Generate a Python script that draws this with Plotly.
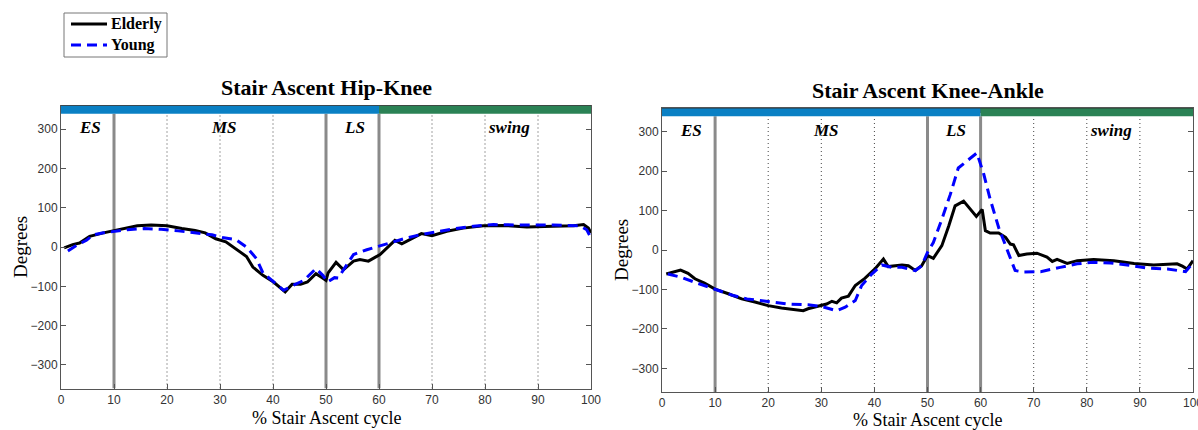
import plotly.graph_objects as go

# ---- Stair Ascent Hip-Knee (continuous relative phase, degrees) ----
hk_elderly_x = [0.6, 2.2, 3.5, 5.4, 8, 10, 11.9, 14.4, 17, 20, 22.8, 25.3, 27.2, 29.2, 31.1, 33, 35,
                36.2, 38.1, 40.1, 41.3, 42.3, 43.6, 45.2, 46.5, 48.1, 49, 50, 50.4, 51.9, 53.3, 55.2,
                56.4, 58, 60.2, 61.4, 63, 64.3, 65.8, 68, 70, 72.8, 75.9, 79.7, 83.5, 87.9, 92.9, 96.7,
                98.6, 99.5, 100]
hk_elderly_y = [-2, 6, 10, 27, 36, 42, 47, 54, 56, 54, 47, 42, 36, 21, 13, -4, -24,
                -51, -72, -89, -103, -114, -95, -95, -89, -68, -76, -85, -66, -39, -58, -36,
                -32, -36, -19, -3, 17, 8, 19, 34, 29, 40, 48, 54, 55, 51, 53, 54,
                57, 48, 36]

hk_young_x = [1.3, 2.9, 4.8, 6.1, 8, 10, 12.5, 15.7, 18.9, 22.1, 25.3, 27.2, 28.5, 30.4, 33, 35,
              36.9, 38.1, 40.1, 42, 43.9, 45.8, 48.1, 49.4, 50.3, 51.6, 52.3, 53.3, 55.2, 57.7,
              60.2, 62.7, 65.2, 67.7, 70.9, 74, 77.8, 81.6, 86.6, 92.9, 97.9, 99.2, 100]
hk_young_y = [-10, 4, 17, 31, 36, 40, 44, 47, 45, 41, 36, 32, 31, 24, 19, 0,
              -30, -66, -89, -110, -97, -85, -55, -72, -89, -78, -79, -58, -19, -7,
              3, 14, 23, 31, 39, 46, 53, 57, 56, 56, 54, 44, 23]

# ---- Stair Ascent Knee-Ankle ----
ka_elderly_x = [0.8, 2.1, 3.5, 4.9, 6.2, 8, 10, 12.5, 15, 17.5, 20, 22.5, 25, 26.6, 27.5, 29.9,
                31, 32, 32.9, 33.8, 35.1, 36.4, 38.2, 40.1, 41.7, 42.6, 45.2, 46.4, 47.7, 48.9,
                50, 51.1, 52.7, 54, 55.2, 56.8, 58, 59.2, 60.3, 60.9, 61.8, 63.4, 64.7, 65.6,
                66.2, 67.2, 68.7, 70.6, 72.5, 73.5, 74.4, 76.3, 78.2, 81.3, 85.1, 88.9, 92.6,
                97, 98, 98.9, 100]
ka_elderly_y = [-61, -57, -51, -59, -73, -84, -99, -111, -124, -132, -141, -147, -151, -154, -149, -141,
                -137, -130, -134, -122, -117, -90, -72, -48, -23, -42, -38, -40, -52, -40,
                -14, -21, 11, 61, 112, 124, 103, 85, 103, 49, 43, 43, 32, 15,
                13, -14, -10, -8, -18, -29, -24, -34, -27, -24, -27, -34, -38,
                -35, -41, -48, -27]

ka_young_x = [1.1, 3.6, 6.2, 10, 13.1, 16, 20, 23.8, 27.5, 30, 32.9, 34.5, 36.4, 37.6, 39.5,
              41.4, 43.3, 45.2, 47.7, 48.9, 50, 51.1, 52.7, 54.3, 55.8, 57.7, 59.3, 60.6, 61.8,
              63.4, 65, 66.5, 68.1, 71.3, 75, 78.2, 81.3, 84.5, 87.6, 91.4, 95.2, 98.6, 99.6, 100]
ka_young_y = [-61, -69, -82, -99, -114, -124, -131, -137, -139, -143, -154, -145, -128, -90, -61,
              -38, -44, -44, -52, -40, -6, 19, 78, 141, 208, 229, 246, 192, 129,
              57, 3, -52, -56, -55, -44, -35, -31, -33, -38, -46, -48, -55, -39, -27]

# Gait phases
phase_labels = ["ES", "MS", "LS", "swing"]
phase_label_x = [5.5, 30.8, 55.3, 84.5]
phase_bounds = [10, 50, 60]
dotted_x = [20, 30, 40, 70, 80, 90]
stance_end = 60

series_names = ["Elderly", "Young"]
titles = ["Stair Ascent Hip-Knee", "Stair Ascent Knee-Ankle"]
x_title = "% Stair Ascent cycle"
y_title = "Degrees"
y_ticks = [-300, -200, -100, 0, 100, 200, 300]
x_ticks = [0, 10, 20, 30, 40, 50, 60, 70, 80, 90, 100]

W, H = 1198, 430
SERIF = "Liberation Serif"
SANS = "Liberation Sans"
BLUE_BAR = "#0a80c4"
GREEN_BAR = "#2b8255"
ELDERLY_LINE = dict(color="black", width=3)
YOUNG_LINE = dict(color="#0000ff", width=3, dash="10px,6px")
Y_MIN, Y_MAX, BAR_LOW = -360, 360, 339

# pixel boxes of the two panels: (left, right, top, bottom)
panels = [(61, 591, 105.5, 388.5), (662, 1193, 108, 392)]
title_y = [87, 91]
xlabel_y = [417.5, 420]
xtick_standoff = [0, 0]


def px(v):
    return v / W


def py(v):
    return 1 - v / H


fig = go.Figure()

datasets = [(hk_elderly_x, hk_elderly_y, hk_young_x, hk_young_y),
            (ka_elderly_x, ka_elderly_y, ka_young_x, ka_young_y)]

shapes = []
annotations = []
for i, ((ex, ey, yx, yy), (l, r, t, b)) in enumerate(zip(datasets, panels)):
    sfx = "" if i == 0 else str(i + 1)
    xa, ya = "x" + sfx, "y" + sfx
    fig.add_trace(go.Scatter(x=ex, y=ey, mode="lines", name=series_names[0],
                             line=ELDERLY_LINE, xaxis=xa, yaxis=ya, showlegend=False))
    fig.add_trace(go.Scatter(x=yx, y=yy, mode="lines", name=series_names[1],
                             line=YOUNG_LINE, xaxis=xa, yaxis=ya, showlegend=False))

    axis_common = dict(showline=True, linecolor="#555", linewidth=1, mirror="ticks",
                       ticks="inside", ticklen=5, tickcolor="#555", showgrid=False,
                       zeroline=False, tickfont=dict(family=SANS, size=12, color="#333"),
                       automargin=False, ticklabeloverflow="allow")
    fig.layout["xaxis" + sfx] = dict(axis_common, domain=[px(l), px(r)], range=[0, 100],
                                     tickvals=x_ticks, anchor=ya,
                                     ticklabelstandoff=xtick_standoff[i])
    fig.layout["yaxis" + sfx] = dict(axis_common, domain=[py(b), py(t)],
                                     range=[Y_MIN, Y_MAX], tickvals=y_ticks, anchor=xa)

    # phase bars along the top
    shapes.append(dict(type="rect", xref=xa, yref=ya, x0=0, x1=stance_end, y0=BAR_LOW, y1=Y_MAX,
                       fillcolor=BLUE_BAR, line=dict(width=0), layer="above"))
    shapes.append(dict(type="rect", xref=xa, yref=ya, x0=stance_end, x1=100, y0=BAR_LOW, y1=Y_MAX,
                       fillcolor=GREEN_BAR, line=dict(width=0), layer="above"))
    shapes.append(dict(type="line", xref=xa, yref=ya, x0=0, x1=100, y0=Y_MAX, y1=Y_MAX,
                       line=dict(color="#333", width=1), layer="above"))
    for xv in dotted_x:
        shapes.append(dict(type="line", xref=xa, yref=ya, x0=xv, x1=xv, y0=Y_MIN, y1=BAR_LOW,
                           line=dict(color="#444", width=1, dash="1px,3px"), layer="below"))
    for xv in phase_bounds:
        shapes.append(dict(type="line", xref=xa, yref=ya, x0=xv, x1=xv, y0=Y_MIN, y1=BAR_LOW,
                           line=dict(color="#8a8a8a", width=3), layer="below"))

    for lab, lx in zip(phase_labels, phase_label_x):
        annotations.append(dict(xref=xa, yref=ya, x=lx, y=303, text=lab, showarrow=False,
                                xanchor="center", yanchor="middle",
                                font=dict(family=SERIF, size=17, color="black",
                                          weight="bold", style="italic")))

    cx = px((l + r) / 2)
    annotations.append(dict(xref="paper", yref="paper", x=cx, y=py(title_y[i]), text=titles[i],
                            showarrow=False, xanchor="center", yanchor="middle",
                            font=dict(family=SERIF, size=22, color="black", weight="bold")))
    annotations.append(dict(xref="paper", yref="paper", x=cx, y=py(xlabel_y[i]), text=x_title,
                            showarrow=False, xanchor="center", yanchor="middle",
                            font=dict(family=SERIF, size=18, color="black")))
    annotations.append(dict(xref="paper", yref="paper", x=px(l - 41), y=py((t + b) / 2),
                            text=y_title, textangle=-90, showarrow=False,
                            xanchor="center", yanchor="middle",
                            font=dict(family=SERIF, size=19, color="black")))

# legend box with line samples
shapes.append(dict(type="rect", xref="paper", yref="paper", x0=px(64), x1=px(167),
                   y0=py(57), y1=py(13), line=dict(color="#777", width=1),
                   fillcolor="white", layer="above"))
for name, line, yc in zip(series_names, [ELDERLY_LINE, YOUNG_LINE], [24, 45]):
    shapes.append(dict(type="line", xref="paper", yref="paper", x0=px(71), x1=px(107),
                       y0=py(yc), y1=py(yc), line=line, layer="above"))
    annotations.append(dict(xref="paper", yref="paper", x=px(109), y=py(yc), text=name,
                            showarrow=False, xanchor="left", yanchor="middle",
                            font=dict(family=SERIF, size=16, color="black", weight="bold")))

fig.update_layout(
    width=W, height=H,
    margin=dict(l=0, r=0, t=0, b=0),
    paper_bgcolor="white", plot_bgcolor="white",
    shapes=shapes, annotations=annotations,
    showlegend=False,
)

fig.write_html("out.html")
